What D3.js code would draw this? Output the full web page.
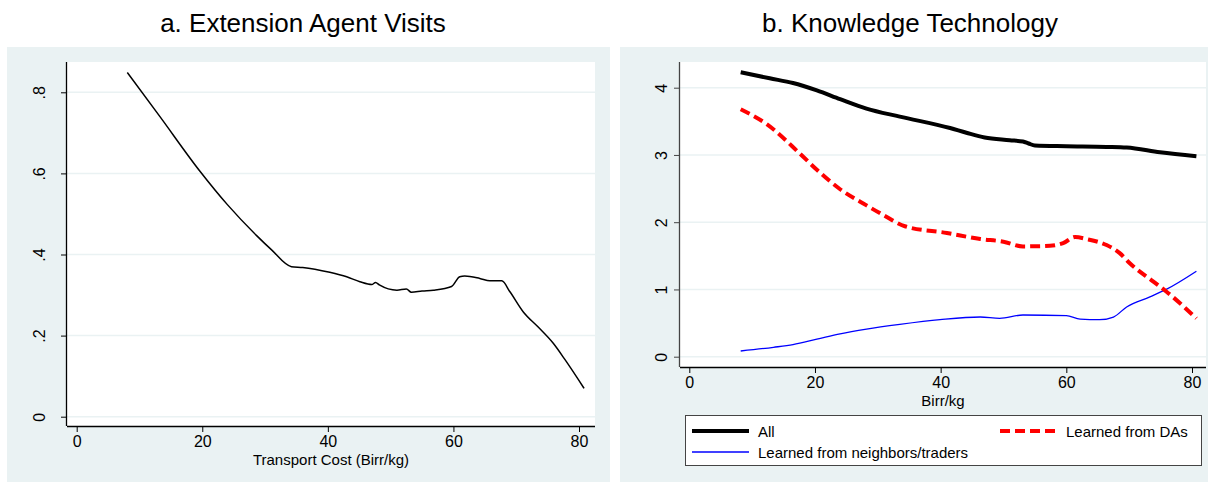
<!DOCTYPE html>
<html>
<head>
<meta charset="utf-8">
<script src="https://cdn.jsdelivr.net/npm/d3@7"></script>
<style>
  body { margin: 0; background: #fff; }
  svg { font-family: "Liberation Sans", Arial, sans-serif; }
</style>
</head>
<body>
<div id="chart"></div>
<script>
// panel a: extension agent visits vs transport cost
const visitX = [8.06, 13.26, 19.6, 24, 28.7, 31, 34.2, 36, 40.3, 43, 45.1, 47.0, 47.6, 48.2, 51, 52.5, 53.3, 55, 56.8, 59.7, 61.0, 61.8, 64.2, 65.8, 67.7, 69, 71.1, 73.5, 75.9, 77.8, 80.8];
const visitY = [0.849, 0.740, 0.606, 0.523, 0.446, 0.412, 0.370, 0.368, 0.356, 0.345, 0.333, 0.326, 0.331, 0.325, 0.312, 0.315, 0.307, 0.310, 0.312, 0.321, 0.345, 0.347, 0.341, 0.335, 0.335, 0.308, 0.259, 0.221, 0.181, 0.140, 0.070];

// panel b: knowledge technology
const allX = [8.18, 12.8, 16.5, 20.3, 24, 28.2, 33.5, 41.5, 44.1, 47, 51, 53.1, 54, 55, 60, 66.4, 69.6, 74.9, 80.7];
const allY = [4.23, 4.14, 4.07, 3.96, 3.83, 3.69, 3.57, 3.40, 3.33, 3.26, 3.22, 3.20, 3.17, 3.14, 3.13, 3.12, 3.11, 3.04, 2.98];

const daX = [8.18, 12.3, 17.6, 20.3, 24, 28.2, 31, 34.3, 41, 46.3, 50, 53.1, 57.4, 59.5, 61.4, 63.2, 66.4, 68.5, 70.1, 73.8, 75.9, 80.7];
const daY = [3.68, 3.46, 3.02, 2.78, 2.49, 2.25, 2.10, 1.94, 1.84, 1.75, 1.71, 1.64, 1.65, 1.69, 1.78, 1.75, 1.66, 1.54, 1.39, 1.12, 0.97, 0.57];

const nbX = [8.18, 13.4, 16.5, 20.3, 24, 28.2, 33.5, 39.9, 46.3, 49.4, 53.1, 60, 62.2, 65.3, 67.5, 69.6, 73.3, 75.9, 80.7];
const nbY = [0.085, 0.14, 0.18, 0.26, 0.34, 0.41, 0.48, 0.55, 0.59, 0.57, 0.62, 0.61, 0.56, 0.55, 0.59, 0.74, 0.89, 1.0, 1.27];

const xTicks = [0, 20, 40, 60, 80];
const visitTicks = [0, 0.2, 0.4, 0.6, 0.8];
const knowTicks = [0, 1, 2, 3, 4];

const bg = "#eaf2f3";
const W = 1208, H = 483;

const svg = d3.select("#chart").append("svg")
    .attr("width", W)
    .attr("height", H);

function zip(xs, ys) {
    return xs.map((x, i) => ({x: x, y: ys[i]}));
}

function panel(opt) {
    let g = svg.append("g");

    // outer region
    g.append("rect")
        .attr("x", opt.box[0]).attr("y", 47)
        .attr("width", opt.box[1] - opt.box[0]).attr("height", 482 - 47)
        .attr("fill", bg);

    // plot region
    g.append("rect")
        .attr("x", opt.plot[0]).attr("y", 62)
        .attr("width", opt.plot[1] - opt.plot[0]).attr("height", opt.bottom - 62)
        .attr("fill", "#fff");

    g.append("text")
        .attr("x", opt.titleX)
        .attr("y", 32)
        .attr("text-anchor", "middle")
        .style("font-size", "26px")
        .text(opt.title);

    let x = d3.scaleLinear().domain([0, 80]).range(opt.xr);
    let y = d3.scaleLinear().domain(opt.yd).range(opt.yr);

    // grid
    g.selectAll("line.grid")
        .data(opt.yTicks)
        .enter()
        .append("line")
        .attr("class", "grid")
        .attr("x1", opt.plot[0]).attr("x2", opt.plot[1])
        .attr("y1", d => y(d)).attr("y2", d => y(d))
        .attr("stroke", bg)
        .attr("stroke-width", 1.5);

    let xAxis = d3.axisBottom(x).tickValues(xTicks).tickSize(6).tickSizeOuter(0).tickPadding(4);
    let gx = g.append("g")
        .attr("transform", "translate(0," + opt.bottom + ")")
        .call(xAxis);
    gx.select(".domain").attr("d", "M" + opt.plot[0] + ",0.5H" + opt.plot[1]).attr("stroke", "#000").attr("stroke-width", 1.3);
    gx.selectAll(".tick line").attr("stroke", "#000");
    gx.selectAll(".tick text").style("font-size", "16px").attr("fill", "#000").attr("font-family", null);

    let yAxis = d3.axisLeft(y).tickValues(opt.yTicks).tickSize(6).tickSizeOuter(0).tickFormat(opt.fmt);
    let gy = g.append("g")
        .attr("transform", "translate(" + opt.plot[0] + ",0)")
        .call(yAxis);
    gy.select(".domain").attr("d", "M-0.5," + (opt.bottom) + "V62").attr("stroke", opt.yAxisColor).attr("stroke-width", 1.3);
    gy.selectAll(".tick line").attr("stroke", opt.yAxisColor);
    gy.selectAll(".tick text")
        .attr("x", null).attr("dy", null)
        .attr("text-anchor", "middle")
        .attr("transform", "translate(" + opt.labelX + ",0) rotate(-90)")
        .attr("y", 0)
        .style("font-size", "16px")
        .attr("fill", "#000")
        .attr("font-family", null);

    g.append("text")
        .attr("x", (opt.plot[0] + opt.plot[1]) / 2)
        .attr("y", opt.bottom + 39)
        .attr("text-anchor", "middle")
        .style("font-size", "15px")
        .text(opt.xLabel);

    opt.x = x;
    opt.y = y;
    opt.g = g;
    return opt;
}

// ---- panel a
let a = panel({
    box: [7, 610], plot: [67, 595], bottom: 426,
    xr: [76.7, 579], yd: [0, 0.8], yr: [416.7, 92.3],
    yTicks: visitTicks, fmt: d => d === 0 ? "0" : d3.format(".1f")(d).replace(/^0/, ""),
    labelX: -22, yAxisColor: "#000",
    title: "a. Extension Agent Visits", titleX: 303,
    xLabel: "Transport Cost (Birr/kg)"
});

let lineA = d3.line().x(d => a.x(d.x)).y(d => a.y(d.y)).curve(d3.curveMonotoneX);
a.g.append("path")
    .datum(zip(visitX, visitY))
    .attr("d", lineA)
    .attr("fill", "none")
    .attr("stroke", "#000")
    .attr("stroke-width", 1.5);

// ---- panel b
let b = panel({
    box: [620, 1208], plot: [680, 1206], bottom: 367,
    xr: [689.3, 1192], yd: [0, 4], yr: [356.7, 87.7],
    yTicks: knowTicks, fmt: d3.format("d"),
    labelX: -13, yAxisColor: "#444",
    title: "b. Knowledge Technology", titleX: 910,
    xLabel: "Birr/kg"
});

let lineB = d3.line().x(d => b.x(d.x)).y(d => b.y(d.y)).curve(d3.curveMonotoneX);

const series = [
    {name: "All", xs: allX, ys: allY, color: "#000", width: 4, dash: null},
    {name: "Learned from DAs", xs: daX, ys: daY, color: "#ff0000", width: 4, dash: "10,5"},
    {name: "Learned from neighbors/traders", xs: nbX, ys: nbY, color: "#0000ff", width: 1.3, dash: null}
];

b.g.selectAll("path.series")
    .data(series.slice().reverse())
    .enter()
    .append("path")
    .attr("class", "series")
    .attr("d", d => lineB(zip(d.xs, d.ys)))
    .attr("fill", "none")
    .attr("stroke", d => d.color)
    .attr("stroke-width", d => d.width)
    .attr("stroke-dasharray", d => d.dash);

// legend
let legend = b.g.append("g");
legend.append("rect")
    .attr("x", 685.5).attr("y", 415.5)
    .attr("width", 516).attr("height", 50)
    .attr("fill", "#fff")
    .attr("stroke", "#444")
    .attr("stroke-width", 1);

const legendPos = [[692, 431], [1000, 431], [692, 452]];
series.forEach((s, i) => {
    let p = legendPos[i];
    legend.append("line")
        .attr("x1", p[0]).attr("x2", p[0] + 57)
        .attr("y1", p[1]).attr("y2", p[1])
        .attr("stroke", s.color)
        .attr("stroke-width", s.width)
        .attr("stroke-dasharray", s.dash);
    legend.append("text")
        .attr("x", p[0] + 66)
        .attr("y", p[1] + 5.5)
        .style("font-size", "15px")
        .text(s.name);
});
</script>
</body>
</html>
